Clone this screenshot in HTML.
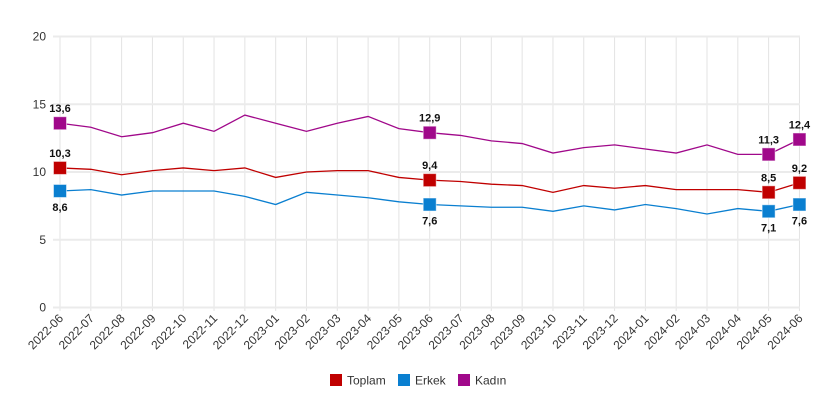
<!DOCTYPE html><html><head><meta charset="utf-8"><style>body{margin:0;background:#fff}svg{display:block;font-family:"Liberation Sans",sans-serif}</style></head><body>
<svg id="s" width="832" height="403" xmlns="http://www.w3.org/2000/svg"></svg>
<script>
const s=document.getElementById('s');let h='';
const X=i=>60+i*30.81, Y=v=>307.5-v*13.55;
const lab=[];for(let y=2022,m=6;lab.length<25;){lab.push(y+'-'+String(m).padStart(2,'0'));m++;if(m>12){m=1;y++;}}
for(let i=0;i<25;i++)h+=`<line x1="${X(i)}" x2="${X(i)}" y1="36" y2="311" stroke="#e3e3e3"/>`;
for(let v=0;v<=20;v+=5){h+=`<line x1="53" x2="800" y1="${Y(v)}" y2="${Y(v)}" stroke="#ebebeb" stroke-width="2"/><text x="46" y="${Y(v)+4}" font-size="12" fill="#333" text-anchor="end">${v}</text>`;}
lab.forEach((l,i)=>h+=`<text transform="translate(${X(i)+4},319) rotate(-45)" font-size="12" fill="#333" text-anchor="end">${l}</text>`);
const S=[
['#c00000',[10.3,10.2,9.8,10.1,10.3,10.1,10.3,9.6,10.0,10.1,10.1,9.6,9.4,9.3,9.1,9.0,8.5,9.0,8.8,9.0,8.7,8.7,8.7,8.5,9.2],-1],
['#0a7fd0',[8.6,8.7,8.3,8.6,8.6,8.6,8.2,7.6,8.5,8.3,8.1,7.8,7.6,7.5,7.4,7.4,7.1,7.5,7.2,7.6,7.3,6.9,7.3,7.1,7.6],1],
['#a0088a',[13.6,13.3,12.6,12.9,13.6,13.0,14.2,13.6,13.0,13.6,14.1,13.2,12.9,12.7,12.3,12.1,11.4,11.8,12.0,11.7,11.4,12.0,11.3,11.3,12.4],-1]];
S.forEach(([c,d,dir])=>{h+=`<polyline fill="none" stroke="${c}" stroke-width="1.3" points="${d.map((v,i)=>X(i)+','+Y(v)).join(' ')}"/>`;
[0,12,23,24].forEach(i=>{const x=X(i),y=Y(d[i]);h+=`<rect x="${x-6.5}" y="${y-6.5}" width="13" height="13" fill="${c}" stroke="#fff" stroke-opacity=".5"/>`;
h+=`<text x="${x}" y="${dir<0?y-11:y+20}" font-size="11" font-weight="bold" text-anchor="middle" fill="#111">${String(d[i]).replace('.',',').replace(/^(\d+)$/,'$1,0')}</text>`;});});
[['#c00000','Toplam',330],['#0a7fd0','Erkek',398],['#a0088a','Kadın',458]].forEach(([c,t,x])=>h+=`<rect x="${x}" y="374" width="12" height="12" fill="${c}"/><text x="${x+17}" y="384.5" font-size="12" fill="#333">${t}</text>`);
s.innerHTML=h;
</script></body></html>
